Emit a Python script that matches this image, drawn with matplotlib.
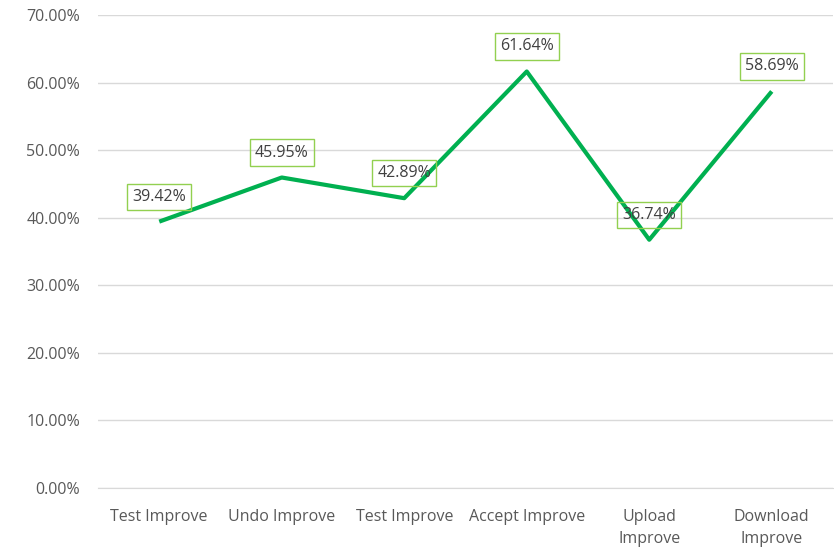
import matplotlib
matplotlib.use("Agg")
import matplotlib.pyplot as plt
from matplotlib.ticker import FuncFormatter

categories = ["Test Improve", "Undo Improve", "Test Improve", "Accept Improve", "Upload\nImprove", "Download\nImprove"]
values = [39.42, 45.95, 42.89, 61.64, 36.74, 58.69]
yticks = [0, 10, 20, 30, 40, 50, 60, 70]

plt.rcParams['font.family'] = ['Open Sans', 'DejaVu Sans']

fig = plt.figure(figsize=(8.34, 5.56), dpi=100)
ax = fig.add_axes([98/834, 68/556, (833-98)/834, (488-15)/556])

ax.plot(range(len(values)), values, color="#00B050", linewidth=3, solid_capstyle="butt", zorder=3)
for i, v in enumerate(values):
    ax.annotate(f"{v:.2f}%", (i, v), xytext=(0, 25), textcoords="offset pixels",
                ha="center", va="center", fontsize=11.5, color="#404040",
                bbox=dict(boxstyle="square,pad=0.32", fc="none", ec="#92D050", lw=1),
                zorder=4)

ax.set_xlim(-0.5, len(values) - 0.5)
ax.set_ylim(0, 70)
ax.set_yticks(yticks)
ax.yaxis.set_major_formatter(FuncFormatter(lambda y, p: f"{y:.2f}%"))
ax.set_xticks(range(len(values)))
ax.set_xticklabels(categories, fontsize=11.5, color="#595959", linespacing=1.5)
ax.tick_params(axis="y", labelsize=11.5, labelcolor="#595959", length=0, pad=13)
ax.tick_params(axis="x", length=0, pad=15)
ax.grid(axis="y", color="#D9D9D9", linewidth=1)
ax.set_axisbelow(True)
for s in ["top", "right", "left"]:
    ax.spines[s].set_visible(False)
ax.spines["bottom"].set_color("#D9D9D9")

fig.savefig("out.png", dpi=100)
